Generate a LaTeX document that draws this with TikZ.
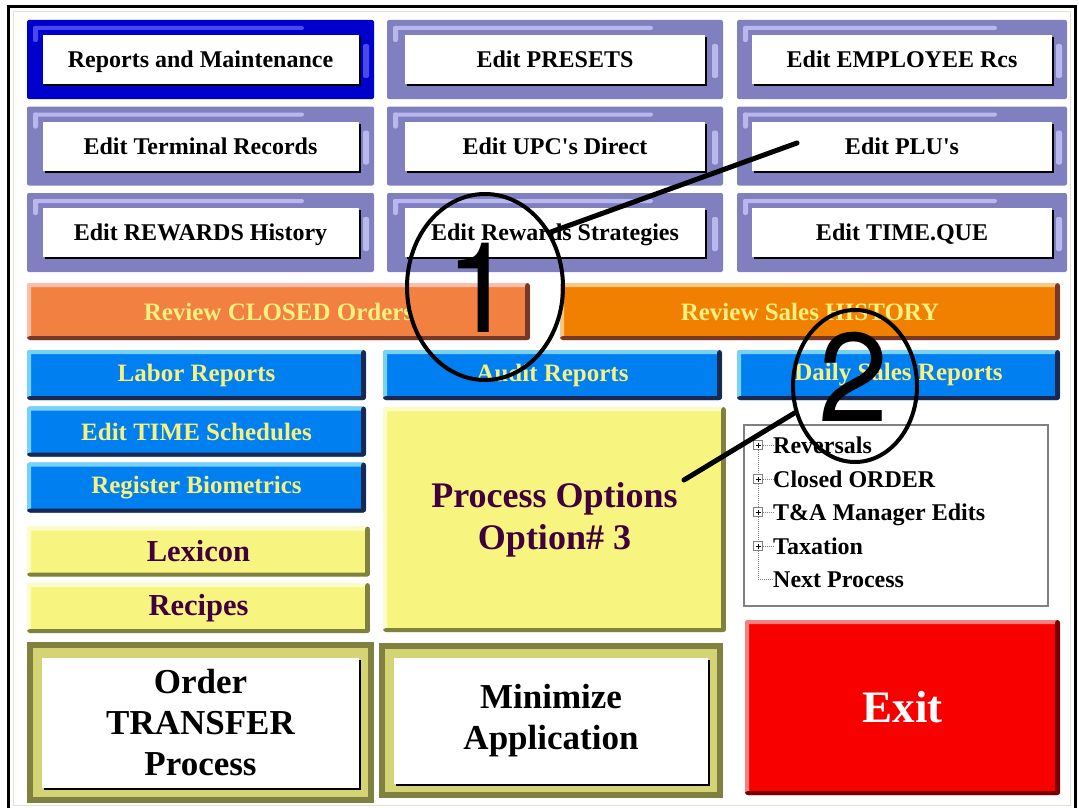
\documentclass[tikz,border=0pt]{standalone}
\usepackage{fontspec}
\setmainfont{Liberation Serif}
\newfontfamily\calloutfont{TeX Gyre Heros}
\usetikzlibrary{shapes.geometric,shadows}

\definecolor{lavender}{RGB}{128,128,192}
\definecolor{lavlight}{RGB}{184,184,236}
\definecolor{royal}{RGB}{0,0,204}
\definecolor{royallight}{RGB}{72,72,236}
\definecolor{skyblue}{RGB}{0,128,240}
\definecolor{skylight}{RGB}{120,210,248}
\definecolor{navyshade}{RGB}{24,40,80}
\definecolor{coral}{RGB}{242,128,64}
\definecolor{corallight}{RGB}{250,190,170}
\definecolor{tangerine}{RGB}{242,128,0}
\definecolor{tangerinelight}{RGB}{250,200,130}
\definecolor{rust}{RGB}{120,56,40}
\definecolor{butter}{RGB}{248,244,128}
\definecolor{butterlight}{RGB}{252,252,200}
\definecolor{olive}{RGB}{128,128,64}
\definecolor{olivelight}{RGB}{212,212,116}
\definecolor{plum}{RGB}{64,0,64}
\definecolor{lemontext}{RGB}{248,240,128}
\definecolor{exitred}{RGB}{248,0,0}
\definecolor{exitlight}{RGB}{244,128,128}
\definecolor{exitdark}{RGB}{120,0,0}
\definecolor{frameline}{RGB}{226,226,210}

\newcommand{\ppbox}{path picture bounding box}

\tikzset{
  bevel/.style 2 args={path picture={
      \fill[#1] (\ppbox.north west) rectangle ([yshift=-4pt]\ppbox.north east);
      \fill[#1] (\ppbox.north west) rectangle ([xshift=4pt]\ppbox.south west);
      \fill[#2] (\ppbox.south west) rectangle ([yshift=4pt]\ppbox.south east);
      \fill[#2] (\ppbox.north east) rectangle ([xshift=-5pt]\ppbox.south east);
    }},
  streaks/.style={path picture={
      \fill[#1] ([xshift=6pt,yshift=-6pt]\ppbox.north west) rectangle ([xshift=-70pt,yshift=-10pt]\ppbox.north east);
      \fill[#1] ([xshift=6pt,yshift=-6pt]\ppbox.north west) rectangle ([xshift=11pt,yshift=-22pt]\ppbox.north west);
      \fill[#1] ([xshift=-11pt,yshift=-24pt]\ppbox.north east) rectangle ([xshift=-5pt,yshift=-58pt]\ppbox.north east);
    }},
  keyframe/.style 2 args={fill=#1, streaks=#2, rounded corners=2pt, minimum height=79pt, inner sep=0pt},
  keybtn/.style={fill=white, minimum height=49pt, inner sep=0pt, text depth=0pt,
      drop shadow={shadow xshift=2pt, shadow yshift=-2pt, fill=black, opacity=1},
      font=\bfseries\fontsize{24}{28}\selectfont},
  slab/.style n args={3}{fill=#1, bevel={#2}{#3}, rounded corners=3pt, inner sep=0pt},
  bluebtn/.style={slab={skyblue}{skylight}{navyshade}, minimum height=50pt, text=lemontext,
      font=\bfseries\fontsize{25}{28}\selectfont},
  orangebtn/.style 2 args={slab={#1}{#2}{rust}, minimum height=57pt, text=lemontext,
      font=\bfseries\fontsize{25}{28}\selectfont},
  yellowbtn/.style={slab={butter}{butterlight}{olive}, text=plum, align=center},
  bigframe/.style={fill=olive, inner sep=0pt, path picture={
      \fill[olivelight] ([xshift=6pt,yshift=-6pt]\ppbox.north west) rectangle ([xshift=-6pt,yshift=6pt]\ppbox.south east);}},
  bigbtn/.style={fill=white, inner sep=0pt, align=center,
      drop shadow={shadow xshift=2pt, shadow yshift=-2pt, fill=black, opacity=1},
      font=\bfseries\fontsize{35}{41}\selectfont},
  treebox/.style={draw=gray, fill=white, line width=1.2pt, inner sep=0pt},
  treeitem/.style={anchor=base west, inner sep=0pt, font=\bfseries\fontsize{24}{28}\selectfont},
  plusbox/.style={draw=gray, fill=white, minimum size=9pt, inner sep=0pt, line width=.6pt,
      path picture={\draw[black, line width=.8pt] ([xshift=2pt]\ppbox.west) -- ([xshift=-2pt]\ppbox.east)
        ([yshift=2pt]\ppbox.south) -- ([yshift=-2pt]\ppbox.north);}},
  treeline/.style={gray, line width=.6pt, dash pattern=on 1pt off 1pt},
  callout/.style={ellipse, draw, line width=4pt, inner sep=0pt},
  digit/.style={inner sep=0pt, font=\calloutfont\fontsize{126}{126}\selectfont},
  pointer/.style={line width=5pt, line cap=round}
}

\begin{document}
\begin{tikzpicture}[x=1pt, y=-1pt]
  \useasboundingbox (0,0) rectangle (1079,808);
  \fill[white] (0,0) rectangle (1079,808);
  % window edge
  \draw[frameline] (13,805) -- (13,11) -- (1070,11) -- (1070,805) -- cycle;
  \draw[line width=3pt] (8.5,808) -- (8.5,7) -- (1075,7) -- (1075,808);

  % maintenance keys
  \node[keyframe={royal}{royallight}, minimum width=347pt] (f11) at (200.5,59.5) {};
  \node[keyframe={lavender}{lavlight}, minimum width=336pt] (f12) at (555,59.5) {};
  \node[keyframe={lavender}{lavlight}, minimum width=330pt] (f13) at (902,59.5) {};
  \node[keyframe={lavender}{lavlight}, minimum width=347pt] (f21) at (200.5,146) {};
  \node[keyframe={lavender}{lavlight}, minimum width=336pt] (f22) at (555,146) {};
  \node[keyframe={lavender}{lavlight}, minimum width=330pt] (f23) at (902,146) {};
  \node[keyframe={lavender}{lavlight}, minimum width=347pt] (f31) at (200.5,232.5) {};
  \node[keyframe={lavender}{lavlight}, minimum width=336pt] (f32) at (555,232.5) {};
  \node[keyframe={lavender}{lavlight}, minimum width=330pt] (f33) at (902,232.5) {};

  \node[keybtn, minimum width=316pt] (k11) at (f11) {Reports and Maintenance};
  \node[keybtn, minimum width=300pt] (k12) at (f12) {Edit PRESETS};
  \node[keybtn, minimum width=300pt] (k13) at (f13) {Edit EMPLOYEE Rcs};
  \node[keybtn, minimum width=316pt] (k21) at (f21) {Edit Terminal Records};
  \node[keybtn, minimum width=300pt] (k22) at (f22) {Edit UPC\textquotesingle s Direct};
  \node[keybtn, minimum width=300pt] (k23) at (f23) {Edit PLU\textquotesingle s};
  \node[keybtn, minimum width=316pt] (k31) at (f31) {Edit REWARDS History};
  \node[keybtn, minimum width=300pt] (k32) at (f32) {Edit Rewards Strategies};
  \node[keybtn, minimum width=300pt] (k33) at (f33) {Edit TIME.QUE};

  % review bars
  \node[orangebtn={coral}{corallight}, minimum width=503pt] (closed) at (278.5,311.5) {Review CLOSED Orders};
  \node[orangebtn={tangerine}{tangerinelight}, minimum width=500pt] (history) at (810,311.5) {Review Sales HISTORY};

  % report buttons
  \node[bluebtn, minimum width=339pt] (labor) at (196.5,375) {Labor Reports};
  \node[bluebtn, minimum width=339pt] (audit) at (552.5,375) {Audit Reports};
  \node[bluebtn, minimum width=323pt] (daily) at (898.5,375) {Daily Sales Reports};
  \node[bluebtn, minimum width=339pt] (sched) at (196.5,431.5) {Edit TIME Schedules};
  \node[bluebtn, minimum width=339pt] (bio) at (196.5,487.5) {Register Biometrics};

  % yellow buttons
  \node[yellowbtn, minimum width=343pt, minimum height=50pt, font=\bfseries\fontsize{30.5}{34}\selectfont] (lexicon) at (198.5,551.5) {Lexicon};
  \node[yellowbtn, minimum width=343pt, minimum height=50pt, font=\bfseries\fontsize{30.5}{34}\selectfont] (recipes) at (198.5,608) {Recipes};
  \node[yellowbtn, minimum width=343pt, minimum height=225pt, font=\bfseries\fontsize{36}{42}\selectfont] (process) at (554.5,519.5) {Process Options\\Option\# 3};

  % big buttons
  \node[bigframe, minimum width=347pt, minimum height=161pt] (orderfr) at (200.5,722.5) {};
  \node[bigbtn, minimum width=317pt, minimum height=130pt] (order) at (orderfr) {Order\\TRANSFER\\Process};
  \node[bigframe, minimum width=344pt, minimum height=155pt] (minfr) at (551,720.5) {};
  \node[bigbtn, minimum width=314pt, minimum height=126pt] (minimize) at (minfr) {Minimize\\Application};
  \node[slab={exitred}{exitlight}{exitdark}, minimum width=315pt, minimum height=175pt, text=white,
        font=\bfseries\fontsize{45}{50}\selectfont] (exit) at (902.5,707.5) {Exit};

  % process tree
  \node[treebox, minimum width=304pt, minimum height=181pt] (tree) at (896,515.5) {};
  \foreach \i/\y/\txt in {1/453/Reversals, 2/487/Closed ORDER, 3/520/T\&A Manager Edits, 4/554/Taxation, 5/587/Next Process}
    \node[treeitem] (t\i) at (773,\y) {\txt};
  \foreach \i/\y in {1/445, 2/479, 3/512, 4/546}
    \node[plusbox] (p\i) at (758,\y) {};
  \coordinate (elbow) at (758,579);
  \draw[treeline] (p1) -- (p2);
  \draw[treeline] (p2) -- (p3);
  \draw[treeline] (p3) -- (p4);
  \draw[treeline] (p4) -- (elbow) -- (elbow -| t5.west);
  \foreach \i in {1,...,4}
    \draw[treeline] (p\i) -- (p\i -| t\i.west);

  % call-outs
  \node[callout, minimum width=156pt, minimum height=186pt] (one) at (485,287) {};
  \node[digit] (num1) at (481,288) {1};
  \node[callout, minimum width=124pt, minimum height=152pt] (two) at (855,386) {};
  \node[digit] (num2) at (854,377) {2};
  \coordinate (plutip) at (797,143);
  \coordinate (proctip) at (684,480);
  \draw[pointer] (one.40) -- (plutip);
  \draw[pointer] (two.204) -- (proctip);
\end{tikzpicture}
\end{document}
